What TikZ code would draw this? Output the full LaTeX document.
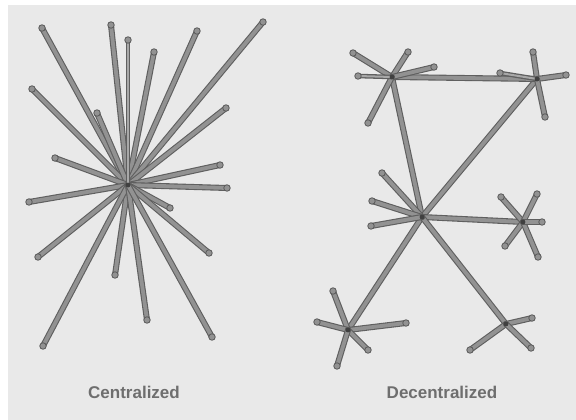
\documentclass[tikz,border=0pt]{standalone}
\usepackage{fontspec}
\setmainfont{Liberation Sans}
\definecolor{bgc}{HTML}{E9E9E9}
\definecolor{edgeout}{HTML}{5F5F5F}
\definecolor{edgein}{HTML}{929292}
\definecolor{labc}{HTML}{6E6E6E}
\begin{document}
\begin{tikzpicture}[x=1pt,y=-1pt,
  link/.style={draw=edgein, line width=3.8pt, line cap=round,
    preaction={draw=edgeout, line width=6pt, line cap=round}},
  dlink/.style={draw=edgein!80!white, line width=2pt, line cap=round,
    preaction={draw=edgeout, line width=4.6pt, line cap=round}},
  dot/.style={circle, inner sep=0pt, minimum size=6.5pt, draw=black!65, fill=edgein, line width=0.8pt},
  lab/.style={font=\bfseries\fontsize{17}{20}\selectfont, text=labc}]
\useasboundingbox (0,0) rectangle (576,420);
\fill[white] (0,0) rectangle (576,420);
\fill[bgc] (8,5) rectangle (576,420);
% Centralized
\coordinate (c0) at (128,185);
\coordinate (c1) at (42,28);
\coordinate (c2) at (111,25);
\coordinate (c3) at (128,40);
\coordinate (c4) at (154,52);
\coordinate (c5) at (197,31);
\coordinate (c6) at (263,22);
\coordinate (c7) at (32,89);
\coordinate (c8) at (97,113);
\coordinate (c9) at (226,108);
\coordinate (c10) at (55,158);
\coordinate (c11) at (220,165);
\coordinate (c12) at (227,188);
\coordinate (c13) at (29,202);
\coordinate (c14) at (170,208);
\coordinate (c15) at (38,257);
\coordinate (c16) at (115,275);
\coordinate (c17) at (209,253);
\coordinate (c18) at (43,346);
\coordinate (c19) at (147,320);
\coordinate (c20) at (212,337);
\foreach \n in {1,2,4,5,6,7,8,9,10,11,12,13,14,15,16,17,18,19,20}
  \draw[link] (c0) -- (c\n);
\draw[dlink] (c0) -- (c3);
% Decentralized hubs
\coordinate (A) at (392,77);
\coordinate (B) at (537,79);
\coordinate (C) at (422,217);
\coordinate (D) at (348,330);
\coordinate (E) at (506,324);
\coordinate (F) at (523,222);
% leaves
\coordinate (a1) at (353,53);
\coordinate (a2) at (408,52);
\coordinate (a3) at (358,76);
\coordinate (a4) at (434,67);
\coordinate (a5) at (368,123);
\coordinate (b1) at (533,52);
\coordinate (b2) at (566,75);
\coordinate (b3) at (545,117);
\coordinate (b4) at (500,73);
\coordinate (k1) at (382,173);
\coordinate (k2) at (372,201);
\coordinate (k3) at (371,226);
\coordinate (f1) at (501,197);
\coordinate (f2) at (537,194);
\coordinate (f3) at (505,246);
\coordinate (f4) at (538,257);
\coordinate (f5) at (542,222);
\coordinate (d1) at (333,291);
\coordinate (d2) at (317,322);
\coordinate (d3) at (406,323);
\coordinate (d4) at (368,350);
\coordinate (d5) at (337,366);
\coordinate (e1) at (470,350);
\coordinate (e2) at (532,318);
\coordinate (e3) at (531,348);
\draw[link] (A) -- (C);
\draw[link] (B) -- (C);
\draw[link] (C) -- (F);
\draw[link] (C) -- (D);
\draw[link] (C) -- (E);
\draw[link] (A) -- (B);
\foreach \n in {1,2,4,5} \draw[link] (A) -- (a\n);
\draw[dlink] (A) -- (a3);
\foreach \n in {1,2,3} \draw[link] (B) -- (b\n);
\draw[dlink] (B) -- (b4);
\foreach \n in {1,2,3} \draw[link] (C) -- (k\n);
\foreach \n in {1,2,3,4,5} \draw[link] (F) -- (f\n);
\foreach \n in {1,2,3,4,5} \draw[link] (D) -- (d\n);
\foreach \n in {1,2,3} \draw[link] (E) -- (e\n);
% end dots
\foreach \p in {c1,c2,c3,c4,c5,c6,c7,c8,c9,c10,c11,c12,c13,c14,c15,c16,c17,c18,c19,c20,
  a1,a2,a3,a4,a5,b1,b2,b3,b4,k1,k2,k3,f1,f2,f3,f4,f5,d1,d2,d3,d4,d5,e1,e2,e3}
  \node[dot] at (\p) {};
\foreach \p in {c0,A,B,C,D,E,F}
  \fill[black!75] (\p) circle (2.4pt);
% labels
\node[lab] (l1) at (134,392) {Centralized};
\node[lab] (l2) at (442,392) {Decentralized};
\end{tikzpicture}
\end{document}
